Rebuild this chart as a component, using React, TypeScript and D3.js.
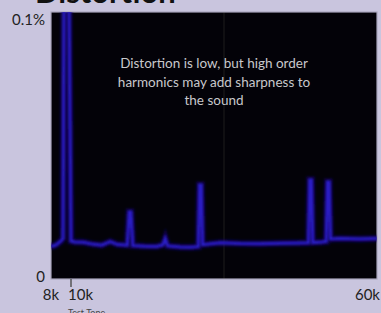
import * as d3 from 'd3';

// spectrum: frequency (kHz) and level (%)
const freqK = [8.0, 8.5, 9.0, 9.2, 9.3, 9.8, 10.0, 10.6, 12.0, 13.5, 15.0, 16.4, 17.6, 19.2, 19.5, 19.8, 20.1, 22.0, 24.0, 25.0, 25.4, 25.8, 27.8, 29.5, 30.8, 31.0, 31.3, 31.5, 34.4, 37.6, 40.9, 44.2, 47.4, 48.8, 49.0, 49.3, 49.5, 51.0, 51.7, 51.9, 52.2, 52.4, 54.0, 57.2, 60.0];
const levelPct = [0.0118, 0.0125, 0.014, 0.015, 0.105, 0.105, 0.014, 0.0136, 0.0135, 0.0128, 0.0124, 0.0138, 0.0126, 0.0124, 0.0253, 0.0253, 0.0122, 0.012, 0.0119, 0.0125, 0.015, 0.0121, 0.0117, 0.0116, 0.0118, 0.0358, 0.0358, 0.0126, 0.0133, 0.013, 0.0129, 0.0131, 0.0132, 0.0133, 0.0377, 0.0377, 0.0134, 0.0136, 0.0138, 0.037, 0.037, 0.0148, 0.015, 0.0148, 0.015];

const xTicks = [8, 10, 60];
const xTickLabels = ['8k', '10k', '60k'];
const yTicks = [0, 0.1];
const yTickLabels = ['0', '0.1%'];
const cursorK = [35];

const title = 'Distortion';
const note = ['Distortion is low, but high order', 'harmonics may add sharpness to', 'the sound'];
const toneLabel = 'Test Tone';

const W = 381;
const H = 313;
const plot = { left: 51, right: 377, top: 12, bottom: 279 };

export default function App() {
  const x = d3.scaleLinear().domain([8, 10, 60]).range([51, 71, 377]);
  const y = d3.scaleLinear().domain([0, 0.1]).range([277, 20]);

  const pts = freqK.map((f, i) => [f, levelPct[i]] as [number, number]);
  const line = d3.line<[number, number]>()
    .x(d => x(d[0]))
    .y(d => y(d[1]));
  const path = line(pts) || '';

  const anchors = ['middle', 'start', 'end'];
  const dxs = [0, -3, 3];
  const font = 'Lato, "Open Sans", sans-serif';

  return (
    <svg width={W} height={H} style={{ position: 'absolute', left: 0, top: 0 }}>
      <defs>
        <clipPath id="plotClip">
          <rect x={plot.left} y={plot.top} width={plot.right - plot.left} height={plot.bottom - plot.top} />
        </clipPath>
        <filter id="soft" x="-10%" y="-10%" width="120%" height="120%">
          <feGaussianBlur stdDeviation="0.9" />
        </filter>
      </defs>
      <rect width={W} height={H} fill="#c9c5de" />
      <text x={35} y={3} fontFamily={font} fontWeight="bold" fontSize={31} fill="#111">{title}</text>

      <rect x={plot.left} y={plot.top} width={plot.right - plot.left} height={plot.bottom - plot.top}
        fill="#030208" stroke="#a9a6bd" strokeWidth={1.2} />

      <g clipPath="url(#plotClip)">
        {cursorK.map((c, i) => (
          <line key={i} x1={x(c)} x2={x(c)} y1={plot.top} y2={plot.bottom} stroke="#8c8c70" strokeOpacity={0.2} strokeWidth={1} />
        ))}
        <path d={path} fill="none" stroke="#170c80" strokeWidth={7} strokeOpacity={0.5} filter="url(#soft)" />
        <path d={path} fill="none" stroke="#2a1ec4" strokeWidth={3} filter="url(#soft)" />
      </g>

      {note.map((t, i) => (
        <text key={i} x={214} y={68 + i * 18.5} textAnchor="middle" fontFamily={font} fontSize={13.5} fill="#c8c8cc">{t}</text>
      ))}

      {yTicks.map((v, i) => (
        <text key={i} x={45} y={y(v)} dy="0.35em" textAnchor="end" fontFamily={font} fontSize={15} fill="#222">{yTickLabels[i]}</text>
      ))}

      {xTicks.map((v, i) => (
        <text key={i} x={x(v) + dxs[i]} y={300} textAnchor={anchors[i]} fontFamily={font} fontSize={15} fill="#222">{xTickLabels[i]}</text>
      ))}
      <line x1={x(10)} x2={x(10)} y1={279} y2={287} stroke="#555" strokeWidth={1.5} />
      <text x={68} y={316} fontFamily={font} fontSize={9} fill="#444">{toneLabel}</text>
    </svg>
  );
}
